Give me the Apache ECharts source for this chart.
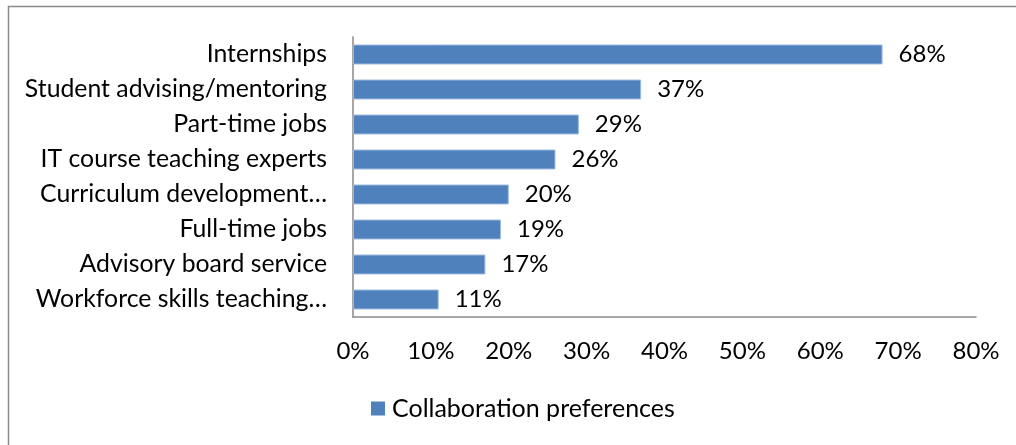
<!DOCTYPE html>
<html>
<head>
<meta charset="utf-8">
<script src="https://cdn.jsdelivr.net/npm/echarts@6/dist/echarts.min.js"></script>
<style>html,body{margin:0;padding:0;background:#fff;}#c{width:1016px;height:445px;}</style>
</head>
<body>
<div id="c"></div>
<script>
var categories = ["Internships","Student advising/mentoring","Part-time jobs","IT course teaching experts","Curriculum development…","Full-time jobs","Advisory board service","Workforce skills teaching…"];
var values = [68,37,29,26,20,19,17,11];
var seriesName = "Collaboration preferences";
var xTicks = [0,10,20,30,40,50,60,70,80];

var FONT = "Lato";
var FS = 24;
var chart = echarts.init(document.getElementById('c'), null, {renderer:'canvas'});
chart.setOption({
  animation:false,
  backgroundColor:'#fff',
  graphic:[{type:'rect', shape:{x:8.5,y:6.5,width:1100,height:600}, style:{fill:'none',stroke:'#8a8a8a',lineWidth:1.5}, silent:true}],
  grid:{left:353,right:40,top:37,bottom:128,containLabel:false},
  legend:{data:[seriesName],left:371,top:396,padding:0,icon:'rect',itemWidth:14,itemHeight:14,
    itemStyle:{borderWidth:0},
    textStyle:{fontFamily:FONT,fontSize:25,color:'#000',padding:[0,0,0,2]}},
  xAxis:{type:'value',min:0,max:80,interval:10,
    axisLine:{show:true,lineStyle:{color:'#8a8a8a',width:1.5}},
    axisTick:{show:false},splitLine:{show:false},
    axisLabel:{margin:22,fontFamily:FONT,fontSize:FS,color:'#000',formatter:function(v){return v+'%';}}},
  yAxis:{type:'category',inverse:true,data:categories,
    axisLine:{show:true,lineStyle:{color:'#8a8a8a',width:1.5}},
    axisTick:{show:false},
    axisLabel:{margin:26,fontFamily:FONT,fontSize:24.8,color:'#000'}},
  series:[{name:seriesName,type:'bar',data:values,barCategoryGap:'43%',
    itemStyle:{color:'#4F81BD',borderColor:'#9BB9DE',borderWidth:1},
    label:{show:true,position:'right',distance:16,fontFamily:FONT,fontSize:FS,color:'#000',formatter:function(p){return p.value+'%';}}}]
});
</script>
</body>
</html>
